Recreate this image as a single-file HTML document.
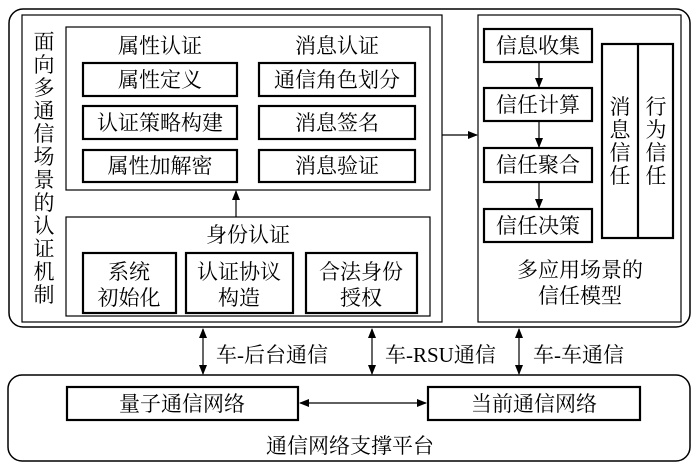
<!DOCTYPE html>
<html><head><meta charset="utf-8"><style>body{margin:0;background:#fff}svg{display:block}</style></head><body>
<svg width="700" height="465" viewBox="0 0 700 465" xmlns="http://www.w3.org/2000/svg" font-family="'Liberation Serif','Noto Serif CJK SC',serif" font-size="21" fill="#000">
<defs><marker id="a" markerWidth="10" markerHeight="8" refX="9" refY="4" orient="auto" markerUnits="userSpaceOnUse"><path d="M0,0 L10,4 L0,8 Z"/></marker>
<marker id="s" markerWidth="10" markerHeight="8" refX="1" refY="4" orient="auto" markerUnits="userSpaceOnUse"><path d="M10,0 L0,4 L10,8 Z"/></marker></defs>
<g fill="none" stroke="#000">
<rect x="9" y="9" width="681" height="318" rx="14" stroke-width="1.5"/>
<rect x="22" y="15" width="420" height="307" stroke-width="1.2"/>
<rect x="66" y="27" width="364" height="163" stroke-width="1.2"/>
<rect x="66" y="217" width="364" height="99" stroke-width="1.2"/>
<rect x="478" y="15" width="203" height="307" stroke-width="1.2"/>
<g stroke-width="2.2">
<rect x="83" y="63" width="154" height="33"/><rect x="83" y="106" width="154" height="33"/><rect x="83" y="150" width="154" height="32"/>
<rect x="259" y="63" width="156" height="33"/><rect x="259" y="106" width="156" height="33"/><rect x="259" y="150" width="156" height="32"/>
<rect x="83" y="253" width="93" height="60"/><rect x="186" y="253" width="107" height="60"/><rect x="306" y="253" width="111" height="60"/>
<rect x="484" y="29" width="108" height="33"/><rect x="484" y="88" width="108" height="33"/><rect x="484" y="148" width="108" height="34"/><rect x="484" y="209" width="108" height="33"/>
<rect x="602" y="44" width="71" height="194"/><line x1="638" y1="44" x2="638" y2="238"/>
<rect x="67" y="387" width="231" height="33"/><rect x="428" y="387" width="212" height="33"/>
</g>
<rect x="8" y="375" width="682" height="86" rx="14" stroke-width="1.5"/>
<g stroke-width="1.2">
<line x1="236" y1="217" x2="236" y2="191" marker-end="url(#a)"/>
<line x1="442" y1="135" x2="477" y2="135" marker-end="url(#a)"/>
<line x1="539" y1="62" x2="539" y2="87" marker-end="url(#a)"/>
<line x1="539" y1="121" x2="539" y2="147" marker-end="url(#a)"/>
<line x1="539" y1="182" x2="539" y2="208" marker-end="url(#a)"/>
<line x1="300" y1="403" x2="426" y2="403" marker-start="url(#s)" marker-end="url(#a)"/>
<line x1="203" y1="329" x2="203" y2="374" marker-start="url(#s)" marker-end="url(#a)"/>
<line x1="372" y1="329" x2="372" y2="374" marker-start="url(#s)" marker-end="url(#a)"/>
<line x1="519" y1="329" x2="519" y2="374" marker-start="url(#s)" marker-end="url(#a)"/>
</g></g>
<g text-anchor="middle">
<text x="160" y="53">属性认证</text><text x="337" y="53">消息认证</text>
<text x="160" y="87">属性定义</text><text x="160" y="130">认证策略构建</text><text x="160" y="173">属性加解密</text>
<text x="337" y="87">通信角色划分</text><text x="337" y="130">消息签名</text><text x="337" y="173">消息验证</text>
<text x="248" y="242">身份认证</text>
<text x="129" y="279">系统</text><text x="129" y="305">初始化</text>
<text x="239" y="279">认证协议</text><text x="239" y="305">构造</text>
<text x="361" y="279">合法身份</text><text x="361" y="305">授权</text>
<text x="538" y="53">信息收集</text><text x="538" y="112">信任计算</text><text x="538" y="172">信任聚合</text><text x="538" y="233">信任决策</text>
<text x="580" y="277">多应用场景的</text><text x="580" y="303">信任模型</text>
<text x="182" y="411">量子通信网络</text><text x="534" y="411">当前通信网络</text>
<text x="350" y="453">通信网络支撑平台</text>
</g>
<g text-anchor="middle">
<text x="620" y="114">消</text><text x="620" y="137">息</text><text x="620" y="160">信</text><text x="620" y="183">任</text>
<text x="656" y="114">行</text><text x="656" y="137">为</text><text x="656" y="160">信</text><text x="656" y="183">任</text>
<text x="44" y="49">面</text><text x="44" y="72">向</text><text x="44" y="95">多</text><text x="44" y="118">通</text><text x="44" y="141">信</text><text x="44" y="164">场</text><text x="44" y="187">景</text><text x="44" y="210">的</text><text x="44" y="233">认</text><text x="44" y="256">证</text><text x="44" y="279">机</text><text x="44" y="302">制</text>
</g>
<text x="216" y="362">车-后台通信</text><text x="385" y="362">车-RSU通信</text><text x="533" y="362">车-车通信</text>
</svg>
</body></html>
